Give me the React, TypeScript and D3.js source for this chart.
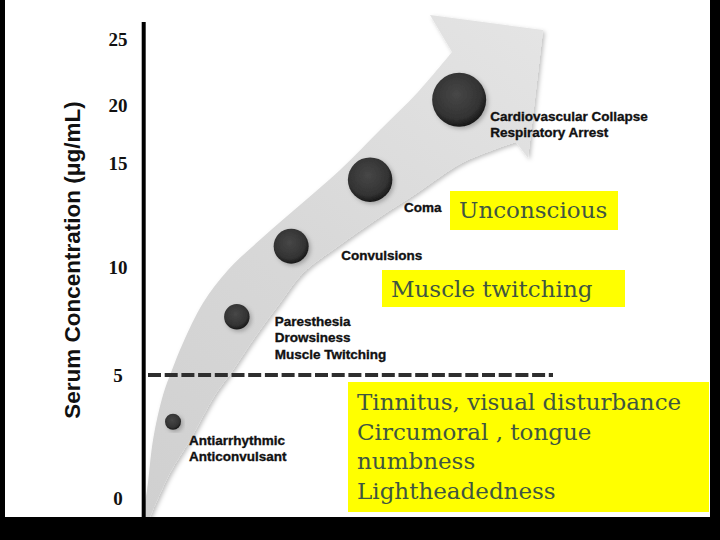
import React from 'react';
import * as d3 from 'd3';

// concentration ticks (μg/mL) – the source axis is not evenly spaced
const tickValues = [0, 5, 10, 15, 20, 25];
const tickPixels = [498, 375, 267, 163, 105, 39];
const thresholdLevel = 5;

// symptom stages along the arrow
const stageLevel = [3.1, 7.7, 11, 14.2, 20.4];
const stageProgress = [5, 16.4, 26.1, 40.2, 56.1];
const stageSeverity = [1, 2, 3, 4, 5];
const stageLabels = [
  ['Antiarrhythmic', 'Anticonvulsant'],
  ['Paresthesia', 'Drowsiness', 'Muscle Twitching'],
  ['Convulsions'],
  ['Coma'],
  ['Cardiovascular Collapse', 'Respiratory Arrest'],
];

// yellow notes
const noteUnconscious = ['Unconscious'];
const noteTwitching = ['Muscle twitching'];
const noteLowLevel = ['Tinnitus, visual disturbance', 'Circumoral , tongue', 'numbness', 'Lightheadedness'];

// layout only
const labelOffsets = [[16, 23], [38, 9], [50, 14], [34, 32], [31, 21]];
const noteBoxes = [
  { lines: noteUnconscious, x: 450, y: 191, w: 168, h: 39 },
  { lines: noteTwitching, x: 382, y: 270, w: 243, h: 37 },
  { lines: noteLowLevel, x: 348, y: 382, w: 361, h: 130 },
];

const upperEdge: [number, number][] = [
  [142, 517], [147, 490], [153, 440], [163, 395], [172, 370], [183, 343], [203, 303],
  [228, 270], [262, 238], [300, 205], [340, 170], [380, 130], [418, 92], [452, 52],
];
const head: [number, number][] = [[430, 15], [543, 30], [528, 158], [516, 142]];
const lowerEdge: [number, number][] = [
  [516, 142], [462, 163], [417, 193], [380, 217], [337, 247], [303, 273], [280, 303],
  [255, 337], [233, 370], [215, 395], [190, 440], [170, 473], [150, 517],
];

const App = () => {
  const y = d3.scaleLinear().domain(tickValues).range(tickPixels);
  const x = d3.scaleLinear().domain([0, 100]).range([145, 705]);
  const r = d3.scaleLinear().domain([1, 5]).range([8, 27]);

  const edge = d3.line().curve(d3.curveCatmullRom.alpha(0.5));
  const bandPath =
    edge(upperEdge) +
    head.map(p => `L${p[0]},${p[1]}`).join('') +
    (edge(lowerEdge) || '').replace(/^M/, 'L') +
    'Z';

  const yTh = y(thresholdLevel);

  return (
    <svg width={720} height={540} style={{ position: 'absolute', left: 0, top: 0, background: '#fff' }}>
      <defs>
        <linearGradient id="band" gradientUnits="userSpaceOnUse" x1={150} y1={517} x2={540} y2={30}>
          <stop offset="0" stopColor="#d0d0d0" />
          <stop offset="0.5" stopColor="#d8d8d8" />
          <stop offset="1" stopColor="#e4e4e4" />
        </linearGradient>
        <radialGradient id="ball" cx="45%" cy="40%" r="60%">
          <stop offset="0" stopColor="#474747" />
          <stop offset="0.75" stopColor="#333" />
          <stop offset="1" stopColor="#181818" />
        </radialGradient>
        <filter id="shadow" x="-20%" y="-20%" width="140%" height="140%">
          <feDropShadow dx="2" dy="2" stdDeviation="2" floodColor="#000" floodOpacity="0.25" />
        </filter>
      </defs>

      <path d={bandPath} fill="url(#band)" filter="url(#shadow)" />

      {/* y axis */}
      <line x1={143.7} x2={143.7} y1={22} y2={517} stroke="#000" strokeWidth={4} />
      {tickValues.map(v => (
        <text key={v} x={118} y={y(v)} dy="0.35em" textAnchor="middle"
          fontFamily="'Liberation Serif', 'Times New Roman', serif" fontWeight="bold" fontSize={19} fill="#111">
          {v}
        </text>
      ))}
      <text transform="translate(80,260) rotate(-90)" textAnchor="middle"
        fontFamily="'Liberation Sans', Arial, sans-serif" fontWeight="bold" fontSize={22.5} fill="#111">
        Serum Concentration (μg/mL)
      </text>

      {/* threshold */}
      <line x1={148} x2={553} y1={yTh} y2={yTh} stroke="#2e2e2e" strokeWidth={4} strokeDasharray="13 3.7" />

      {/* stages */}
      {stageLevel.map((lv, i) => {
        const cx = x(stageProgress[i]);
        const cy = y(lv);
        return (
          <g key={i}>
            <circle cx={cx} cy={cy} r={r(stageSeverity[i])} fill="url(#ball)" filter="url(#shadow)" />
            <text x={cx + labelOffsets[i][0]} y={cy + labelOffsets[i][1]}
              fontFamily="'Liberation Sans', Arial, sans-serif" fontWeight="bold" fontSize={13.5}
              fill="#111" stroke="#111" strokeWidth={0.35}>
              {stageLabels[i].map((t, j) => (
                <tspan key={j} x={cx + labelOffsets[i][0]} dy={j === 0 ? 0 : 16.7}>{t}</tspan>
              ))}
            </text>
          </g>
        );
      })}

      {/* notes */}
      {noteBoxes.map((b, i) => (
        <g key={i}>
          <rect x={b.x} y={b.y} width={b.w} height={b.h} fill="#ffff00" />
          <text fontFamily="'DejaVu Serif', serif" fontSize={23} fill="#3f5641">
            {b.lines.map((t, j) => (
              <tspan key={j} x={b.x + 9} y={b.y + (b.lines.length > 1 ? 28 : 27) + j * 29.7}>{t}</tspan>
            ))}
          </text>
        </g>
      ))}

      {/* slide frame */}
      <rect x={0} y={0} width={5} height={540} fill="#000" />
      <rect x={0} y={517} width={720} height={23} fill="#000" />
      <rect x={710} y={0} width={10} height={540} fill="#000" />
    </svg>
  );
};

export default App;
